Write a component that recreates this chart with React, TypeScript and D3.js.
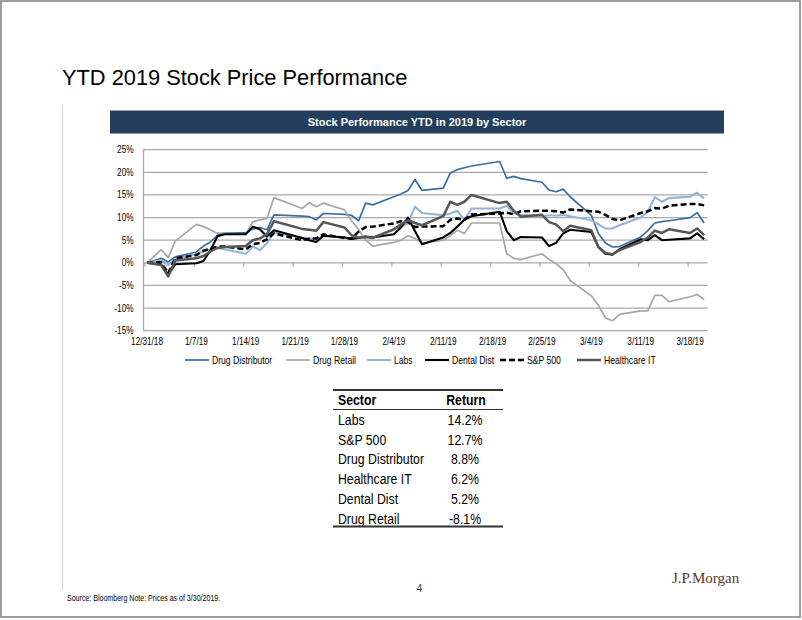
import React from "react";
import * as d3 from "d3";

// ---------- DATA ----------
const dates = [
  "2018-12-31", "2019-01-02", "2019-01-03", "2019-01-04", "2019-01-07", "2019-01-08", "2019-01-09",
  "2019-01-10", "2019-01-11", "2019-01-14", "2019-01-15", "2019-01-16", "2019-01-17", "2019-01-18",
  "2019-01-22", "2019-01-23", "2019-01-24", "2019-01-25", "2019-01-28", "2019-01-29", "2019-01-30",
  "2019-01-31", "2019-02-01", "2019-02-04", "2019-02-05", "2019-02-06", "2019-02-07", "2019-02-08",
  "2019-02-11", "2019-02-12", "2019-02-13", "2019-02-14", "2019-02-15", "2019-02-19", "2019-02-20",
  "2019-02-21", "2019-02-22", "2019-02-25", "2019-02-26", "2019-02-27", "2019-02-28", "2019-03-01",
  "2019-03-04", "2019-03-05", "2019-03-06", "2019-03-07", "2019-03-08", "2019-03-11", "2019-03-12",
  "2019-03-13", "2019-03-14", "2019-03-15", "2019-03-18", "2019-03-19", "2019-03-20",
];

const drugDistributor = [
  0, 1.0, 0.2, 1.3, 2.4, 3.7, 4.6, 6.1, 6.6, 6.6, 7.5, 7.8, 7.3, 10.6, 10.3, 10.2, 9.5, 10.9, 10.7,
  10.5, 9.3, 13.2, 12.8, 14.6, 15.2, 16.0, 18.4, 16.0, 16.5, 19.8, 20.6, 21.0, 21.4, 22.4, 18.7, 19.1,
  18.6, 17.8, 16.1, 15.7, 16.3, 14.6, 10.5, 6.5, 4.4, 3.5, 3.6, 5.7, 7.1, 8.8, 9.1, 9.3, 10.0, 11.1, 8.8,
];

const drugRetail = [
  0, 2.9, 1.2, 4.8, 8.5, 8.0, 7.3, 6.5, 6.6, 6.3, 9.1, 9.5, 9.8, 14.4, 12.0, 13.3, 12.4, 13.2, 11.7,
  9.3, 7.4, 5.0, 3.7, 4.5, 5.0, 6.0, 5.4, 4.3, 5.0, 6.0, 7.2, 6.5, 8.8, 8.8, 2.0, 1.0, 0.7, 2.0, 0.8,
  -0.2, -1.5, -3.9, -7.3, -9.4, -12.2, -12.8, -11.4, -10.6, -10.6, -7.2, -7.2, -8.6, -7.5, -7.0, -8.1,
];

const labs = [
  0, 0.6, -0.5, 0.8, 2.0, 2.5, 3.0, 3.3, 3.0, 2.0, 3.6, 2.8, 4.3, 6.7, 5.6, 5.4, 5.2, 5.9, 5.6, 5.5,
  5.5, 5.8, 5.6, 7.4, 8.0, 8.7, 12.4, 11.0, 10.5, 10.9, 11.5, 9.5, 12.0, 12.0, 12.6, 11.0, 10.6, 10.3,
  10.5, 10.4, 10.6, 10.3, 9.4, 8.5, 7.6, 7.6, 8.3, 10.0, 11.3, 14.5, 13.5, 14.3, 14.6, 15.5, 14.2,
];

const dentalDist = [
  0, -0.4, -2.7, -0.3, -0.1, 0.4, 2.8, 5.9, 6.3, 6.3, 8.0, 7.4, 5.8, 7.2, 5.5, 5.0, 4.6, 6.0, 5.6, 5.3,
  5.5, 5.8, 5.6, 6.3, 7.8, 10.0, 7.0, 4.1, 5.6, 6.6, 8.0, 9.5, 10.3, 11.3, 7.0, 5.0, 5.7, 5.6, 3.7,
  4.4, 6.5, 7.3, 6.8, 3.5, 2.0, 1.8, 3.0, 5.2, 5.0, 6.1, 5.0, 5.1, 5.4, 6.5, 5.2,
];

const sp500 = [
  0, 0.1, -2.3, 1.0, 1.7, 2.7, 3.1, 3.6, 3.6, 3.0, 4.1, 4.4, 5.2, 6.5, 5.0, 5.3, 5.4, 6.3, 5.5, 5.3,
  6.9, 7.9, 8.0, 8.7, 9.2, 9.0, 7.9, 8.0, 8.1, 9.5, 9.8, 9.5, 10.7, 10.9, 11.1, 10.7, 11.4, 11.5, 11.5,
  11.4, 11.1, 11.8, 11.4, 11.3, 10.6, 9.7, 9.4, 11.0, 11.4, 12.1, 12.0, 12.6, 13.0, 13.0, 12.7,
];

const healthcareIT = [
  0, -0.5, -3.0, 0.5, 1.0, 1.5, 2.5, 3.3, 3.5, 3.7, 5.0, 5.4, 6.3, 9.2, 7.5, 7.3, 7.1, 9.0, 7.8, 6.1,
  5.6, 5.7, 5.5, 7.4, 8.5, 9.4, 8.8, 8.3, 10.3, 13.5, 12.8, 13.5, 15.0, 13.2, 13.5, 11.5, 10.2, 10.6,
  9.0, 8.5, 7.0, 8.2, 7.2, 3.5, 2.2, 1.9, 2.8, 4.6, 5.6, 7.1, 6.6, 7.4, 6.6, 7.6, 6.1,
];

const seriesNames = ["Drug Distributor", "Drug Retail", "Labs", "Dental Dist", "S&P 500", "Healthcare IT"];

const xTickLabels = [
  "12/31/18", "1/7/19", "1/14/19", "1/21/19", "1/28/19", "2/4/19",
  "2/11/19", "2/18/19", "2/25/19", "3/4/19", "3/11/19", "3/18/19",
];
const yTicks = [-15, -10, -5, 0, 5, 10, 15, 20, 25];

const tableSectors = ["Labs", "S&P 500", "Drug Distributor", "Healthcare IT", "Dental Dist", "Drug Retail"];
const tableReturns = ["14.2%", "12.7%", "8.8%", "6.2%", "5.2%", "-8.1%"];

// ---------- STYLES ----------
const styles = [
  { color: "#3A6EA5", width: 1.7, dash: "" },
  { color: "#A6A6A6", width: 1.7, dash: "" },
  { color: "#95B3D7", width: 2.1, dash: "" },
  { color: "#000000", width: 2.1, dash: "" },
  { color: "#000000", width: 2.5, dash: "6,3" },
  { color: "#575757", width: 2.5, dash: "" },
];
const legendX = [185, 286, 367, 425, 500, 577];

const SANS = "'Liberation Sans', Arial, sans-serif";
const NARROW = 0.82;

function NText(props: {
  x: number; y: number; size: number; anchor?: string; weight?: string | number; fill?: string; children: any;
}) {
  const { x, y, size, anchor = "start", weight = "normal", fill = "#000", children } = props;
  return (
    <text
      transform={`translate(${x},${y}) scale(${NARROW},1)`}
      fontFamily={SANS}
      fontSize={size}
      fontWeight={weight}
      textAnchor={anchor as any}
      fill={fill}
    >
      {children}
    </text>
  );
}

export default function App() {
  const parse = d3.utcParse("%Y-%m-%d");
  const parseTick = d3.utcParse("%m/%d/%y");
  const dateObjs = dates.map((d) => parse(d) as Date);
  const half = 12 * 3600 * 1000;
  const first = dateObjs[0];
  const last = dateObjs[dateObjs.length - 1];

  const plotLeft = 143.5;
  const plotRight = 707.7;
  const plotTop = 149.7;
  const plotBottom = 330.7;

  const x = d3
    .scaleUtc()
    .domain([new Date(first.getTime() - half), new Date(last.getTime() + half)])
    .range([plotLeft, plotRight]);
  const y = d3.scaleLinear().domain([-15, 25]).range([plotBottom, plotTop]);

  const allSeries = [drugDistributor, drugRetail, labs, dentalDist, sp500, healthcareIT];
  const line = d3
    .line<number>()
    .x((_, i) => x(dateObjs[i]))
    .y((d) => y(d));

  const tickDates = xTickLabels.map((t) => parseTick(t) as Date);
  const y0 = y(0);

  const tableTop = 390;
  const rowH = 19.7;

  return (
    <svg
      width={802}
      height={620}
      style={{ position: "absolute", left: 0, top: 0, display: "block" }}
    >
      <rect x={0} y={0} width={802} height={620} fill="#ffffff" />
      <rect x={1} y={1} width={799} height={616} fill="none" stroke="#858585" strokeWidth={1.6} />

      {/* Title */}
      <text x={62} y={85} fontFamily={SANS} fontSize={21.8} fill="#000">
        YTD 2019 Stock Price Performance
      </text>
      <line x1={62.5} x2={62.5} y1={105} y2={590} stroke="#d4d4d4" strokeWidth={1} />

      {/* Header bar */}
      <rect x={110} y={110.5} width={614} height={23} fill="#243F5E" />
      <text
        x={417}
        y={126}
        fontFamily={SANS}
        fontSize={11}
        fontWeight="bold"
        fill="#ffffff"
        textAnchor="middle"
      >
        Stock Performance YTD in 2019 by Sector
      </text>

      {/* Gridlines */}
      {yTicks.map((t) => (
        <line
          key={"g" + t}
          x1={plotLeft}
          x2={plotRight}
          y1={y(t)}
          y2={y(t)}
          stroke="#A9A9A9"
          strokeWidth={1.3}
        />
      ))}
      <line x1={plotLeft} x2={plotLeft} y1={plotTop} y2={plotBottom} stroke="#A9A9A9" strokeWidth={1.3} />

      {/* Y labels */}
      {yTicks.map((t) => (
        <NText key={"yl" + t} x={133.5} y={y(t) + 3.5} size={10} anchor="end">
          {t + "%"}
        </NText>
      ))}

      {/* X ticks on zero line */}
      {tickDates.map((d, i) => (
        <line
          key={"xt" + i}
          x1={x(d) - 2}
          x2={x(d) - 2}
          y1={y0}
          y2={y0 + 4}
          stroke="#A9A9A9"
          strokeWidth={1.2}
        />
      ))}
      {tickDates.map((d, i) => (
        <NText key={"xl" + i} x={x(d)} y={345} size={10} anchor="middle">
          {xTickLabels[i]}
        </NText>
      ))}

      {/* Series lines */}
      {allSeries.map((s, i) => (
        <path
          key={"s" + i}
          d={line(s) || ""}
          fill="none"
          stroke={styles[i].color}
          strokeWidth={styles[i].width}
          strokeDasharray={styles[i].dash || undefined}
          strokeLinejoin="round"
        />
      ))}

      {/* Legend */}
      {seriesNames.map((n, i) => (
        <g key={"lg" + i}>
          <line
            x1={legendX[i]}
            x2={legendX[i] + 24}
            y1={360}
            y2={360}
            stroke={styles[i].color}
            strokeWidth={styles[i].width}
            strokeDasharray={styles[i].dash || undefined}
          />
          <NText x={legendX[i] + 27} y={363.5} size={10.5}>
            {n}
          </NText>
        </g>
      ))}

      {/* Table */}
      <line x1={333} x2={503} y1={tableTop} y2={tableTop} stroke="#333" strokeWidth={2} />
      <NText x={338} y={405} size={15} weight="bold">Sector</NText>
      <NText x={466} y={405} size={15} weight="bold" anchor="middle">Return</NText>
      <line x1={333} x2={503} y1={409.5} y2={409.5} stroke="#333" strokeWidth={1} />
      {tableSectors.map((s, i) => (
        <g key={"tr" + i}>
          <NText x={338} y={425 + i * rowH} size={15}>{s}</NText>
          <NText x={465} y={425 + i * rowH} size={15} anchor="middle">{tableReturns[i]}</NText>
        </g>
      ))}
      <line x1={333} x2={503} y1={526.5} y2={526.5} stroke="#333" strokeWidth={2} />

      {/* Footer */}
      <text x={419.5} y={592} fontFamily={SANS} fontSize={10} textAnchor="middle" fill="#333">
        4
      </text>
      <text x={672} y={583} fontFamily="'Liberation Serif', 'DejaVu Serif', serif" fontSize={15} fill="#5A3A28">
        J.P.Morgan
      </text>
      <NText x={67} y={601} size={8.6}>
        Source: Bloomberg Note: Prices as of 3/30/2019.
      </NText>
    </svg>
  );
}
